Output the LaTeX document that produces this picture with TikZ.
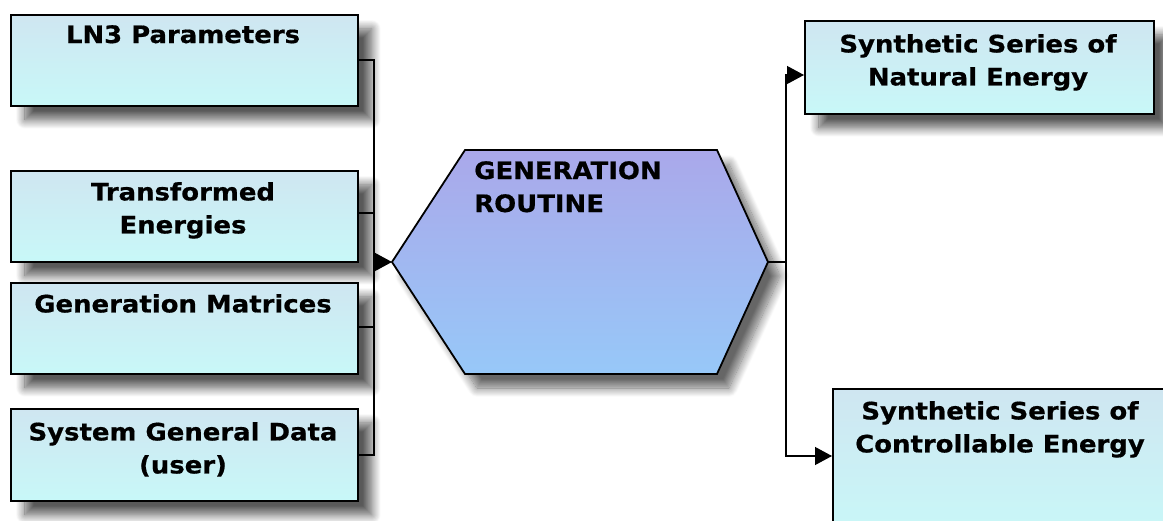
\documentclass[tikz,border=0pt]{standalone}
\usepackage{fontspec}
\setmainfont[FakeStretch=1.08,BoldFeatures={FakeBold=0.6}]{DejaVu Sans}
\usetikzlibrary{arrows.meta,shadows.blur}
\definecolor{boxtop}{HTML}{CFE6F1}
\definecolor{boxbot}{HTML}{C8F8F8}
\definecolor{hextop}{HTML}{AAA8EA}
\definecolor{hexbot}{HTML}{97C8F8}
\tikzset{
  inbox/.style={draw=black, line width=1.8pt, top color=boxtop, bottom color=boxbot,
    blur shadow={shadow xshift=14pt, shadow yshift=-14pt, shadow blur radius=9pt, shadow blur steps=14, shadow opacity=65},
    minimum width=347pt, minimum height=91pt, inner sep=0pt, anchor=north west},
  lbl/.style={font=\bfseries\fontsize{24}{33}\selectfont, align=center, anchor=north, inner sep=0pt},
  conn/.style={draw=black, line width=1.2pt},
  arr/.style={conn, -{Triangle[length=17pt,width=18pt]}},
}
\begin{document}
\begin{tikzpicture}[x=1pt,y=-1pt]
\useasboundingbox (0,0) rectangle (1163,521);
% left boxes
\node[inbox] (ln3) at (10,14) {};
\node[inbox] (te) at (10,170) {};
\node[inbox] (gm) at (10,282) {};
\node[inbox, minimum height=92pt] (sg) at (10,408) {};
% right boxes
\node[inbox, minimum width=349pt, minimum height=93pt] (nat) at (804,20) {};
\node[inbox, minimum width=345pt, minimum height=150pt] (ctl) at (832,388) {};
% labels
\node[lbl] (ln3t) at (183,25) {LN3 Parameters};
\node[lbl] (tet) at (183,182) {Transformed\\Energies};
\node[lbl] (gmt) at (183,294) {Generation Matrices};
\node[lbl] (sgt) at (183,422) {System General Data\\(user)};
\node[lbl] (natt) at (978,34) {Synthetic Series of\\Natural Energy};
\node[lbl] (ctlt) at (1000,401) {Synthetic Series of\\Controllable Energy};
% hexagon
\coordinate (hw) at (392,262);
\coordinate (he) at (768,262);
\path[draw=black, line width=1.8pt, top color=hextop, bottom color=hexbot,
  blur shadow={shadow xshift=12pt, shadow yshift=-14pt, shadow blur radius=9pt, shadow blur steps=14, shadow opacity=60}]
  (hw) -- (465,150) -- (717,150) -- (he) -- (717,374) -- (465,374) -- cycle;
\node[lbl, anchor=north west, align=left] (gr) at (474,161) {GENERATION\\ROUTINE};
% connectors left
\coordinate (jl) at (374,262);
\draw[conn] (ln3.east |- 0,60) -| (jl);
\draw[conn] (te.east |- 0,213) -| (jl);
\draw[conn] (gm.east |- 0,327) -| (jl);
\draw[conn] (sg.east |- 0,455) -| (jl);
\draw[arr] (jl) -- (hw);
% connectors right
\coordinate (jr) at (786,262);
\draw[conn] (he) -- (jr);
\draw[arr] (jr) |- (nat.west |- 0,75);
\draw[arr] (jr) |- (ctl.west |- 0,456);
\end{tikzpicture}
\end{document}
